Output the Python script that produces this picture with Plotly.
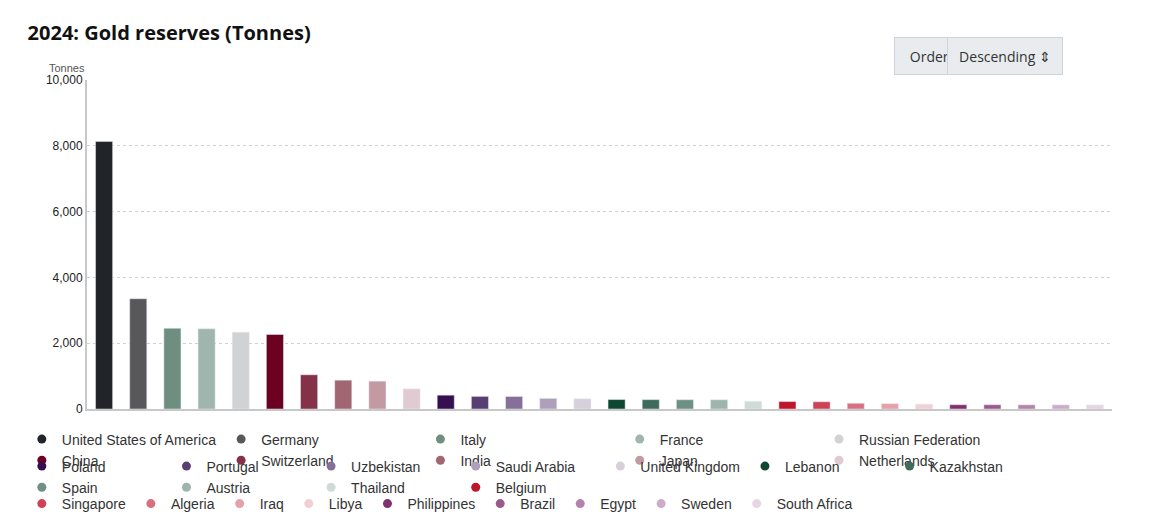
import plotly.graph_objects as go

countries = ["United States of America","Germany","Italy","France","Russian Federation","China","Switzerland","India","Japan","Netherlands",
             "Poland","Portugal","Uzbekistan","Saudi Arabia","United Kingdom","Lebanon","Kazakhstan","Spain","Austria","Thailand","Belgium",
             "Singapore","Algeria","Iraq","Libya","Philippines","Brazil","Egypt","Sweden","South Africa"]
values = [8133,3352,2452,2437,2336,2264,1040,876,846,612,
          420,383,380,323,310,287,284,282,280,235,227,
          220,174,163,147,130,130,127,126,125]
colors = ["#212529","#58585a","#6e8f80","#9fb5ad","#d1d2d4","#6c0020","#853148","#a26673","#c399a2","#e1cbd0",
          "#370f51","#5a3d73","#866f98","#ae9fba","#d7cfdc","#0f4731","#3d6c5a","#6e9183","#9eb5ab","#cfdbd6","#c0142d",
          "#cd4255","#d97081","#e6a0ab","#f2cfd5","#80306e","#9a5a8c","#b483ab","#cdabc9","#e6d5e4"]
legend_rows = [10, 11, 9]

fig = go.Figure()
for c, v, col in zip(countries, values, colors):
    fig.add_trace(go.Bar(x=[c], y=[v], marker_color=col, width=0.5, showlegend=False,
                         hovertemplate="%{x}: %{y:,}<extra></extra>"))
row_of = []
for r, n in enumerate(legend_rows):
    row_of += [r] * n
lg_names = ["legend", "legend2", "legend3"]
for c, col, r in zip(countries, colors, row_of):
    fig.add_trace(go.Scatter(x=[None], y=[None], mode="markers", name=c, legend=lg_names[r],
                             marker=dict(symbol="circle", size=9, color=col)))

leg_common = dict(orientation="h", x=0.012, xref="container", xanchor="left", yref="container", yanchor="middle",
                  font=dict(size=14, color="#333", family="Arial"), itemwidth=30, bgcolor="rgba(0,0,0,0)")
layout_legends = {}
for i, (name, ypx) in enumerate(zip(lg_names, [442, 469, 496])):
    d = dict(leg_common)
    d["y"] = 1 - ypx / 519
    layout_legends[name] = d

fig.update_layout(
    width=1153, height=519, barmode="overlay",
    paper_bgcolor="white", plot_bgcolor="white",
    margin=dict(l=79, r=49, t=72, b=118, autoexpand=False),
    font=dict(family="Open Sans, Arial, sans-serif", size=13, color="#222"),
    title=dict(text="<b>2024: Gold reserves (Tonnes)</b>", x=0.017, xanchor="left", y=1 - 25 / 519, yanchor="middle",
               font=dict(size=20, color="#111")),
    xaxis=dict(showticklabels=False, showgrid=False, showline=True, linecolor="#c8c8c8", linewidth=2, ticks=""),
    yaxis=dict(range=[0, 10000], dtick=2000, tickformat=",", showgrid=True, gridcolor="#d0d0d0", griddash="dot",
               showline=True, linecolor="#c8c8c8", linewidth=2, zeroline=False, tickfont=dict(size=12, family="Arial")),
    **layout_legends,
)
fig.add_annotation(text="Tonnes", x=0, xref="paper", xanchor="right", y=1.0, yref="paper", yanchor="bottom",
                   yshift=4, showarrow=False, font=dict(size=11, color="#555", family="Arial"))
ybox = (401 - 29) / 329
fig.add_annotation(text="Order:", xref="paper", yref="paper", x=(960 - 79) / 1025, y=ybox, width=56, height=20,
                   showarrow=False, bgcolor="#e9ecef", bordercolor="#ced4da", borderpad=8,
                   font=dict(size=14, color="#333", family="Open Sans"))
fig.add_annotation(text="Descending ⇕", xref="paper", yref="paper", x=(1055 - 79) / 1025, y=ybox, width=98, height=20,
                   showarrow=False, bgcolor="#e9ecef", bordercolor="#ced4da", borderpad=8,
                   font=dict(size=14, color="#333", family="Open Sans"))
fig.write_html("out.html")
